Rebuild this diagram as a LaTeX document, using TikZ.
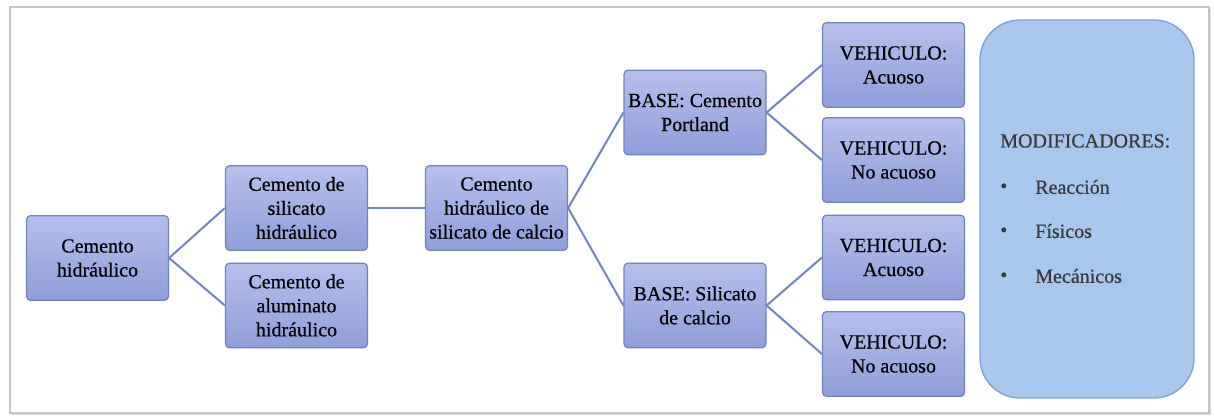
\documentclass[tikz,border=0pt]{standalone}
\usepackage{fontspec}
\setmainfont{Liberation Serif}[FakeBold=0.6]
\usetikzlibrary{shadows}
\definecolor{boxtop}{HTML}{B6C0EC}
\definecolor{boxbot}{HTML}{8E9ED9}
\definecolor{boxline}{HTML}{7282C0}
\definecolor{conn}{HTML}{6F86C2}
\definecolor{modfill}{HTML}{A9C6EC}
\definecolor{modline}{HTML}{7EA3D8}
\definecolor{modtext}{HTML}{3A3A3A}
\definecolor{frameline}{HTML}{C4C4C4}
\tikzset{
  box/.style={draw=boxline, line width=0.9pt, rounded corners=3pt,
    top color=boxtop, bottom color=boxbot,
    minimum width=106.5pt, minimum height=63.5pt, inner sep=0pt,
    align=center, font=\fontsize{15}{18}\selectfont, text=black},
  modbox/.style={draw=modline, line width=1pt, rounded corners=30pt,
    fill=modfill, minimum width=160.5pt, minimum height=283.5pt, inner sep=0pt},
  modtxt/.style={font=\fontsize{15}{18}\selectfont, text=modtext, inner sep=0pt, anchor=west},
  link/.style={draw=conn, line width=1.5pt}
}
\begin{document}
\begin{tikzpicture}[x=0.75pt,y=-0.75pt]
\useasboundingbox (0,0) rectangle (1214,416);
\fill[white] (0,0) rectangle (1214,416);
\draw[frameline, line width=1pt, drop shadow={opacity=0.25, shadow xshift=1.5pt, shadow yshift=-1.5pt}, fill=white] (10,7) rectangle (1209,413);

\node[box] (A) at (97.5,258) {Cemento\\hidráulico};
\node[box] (B) at (296.5,208) {Cemento de\\silicato\\hidráulico};
\node[box] (C) at (296.5,305.5) {Cemento de\\aluminato\\hidráulico};
\node[box] (D) at (496.5,208) {Cemento\\hidráulico de\\silicato de calcio};
\node[box] (E) at (695,112.5) {BASE: Cemento\\Portland};
\node[box] (F) at (695,305.5) {BASE: Silicato\\de calcio};
\node[box] (V1) at (893.5,65) {VEHICULO:\\Acuoso};
\node[box] (V2) at (893.5,160) {VEHICULO:\\No acuoso};
\node[box] (V3) at (893.5,257.5) {VEHICULO:\\Acuoso};
\node[box] (V4) at (893.5,354) {VEHICULO:\\No acuoso};

\node[modbox] (M) at (1087,209) {};
\node[modtxt] (Mt) at (1000,141) {MODIFICADORES:};
\node[modtxt] (b1) at (1000,188) {\textbullet};
\node[modtxt] (i1) at (1035,187) {Reacción};
\node[modtxt] (b2) at (1000,232) {\textbullet};
\node[modtxt] (i2) at (1035,231) {Físicos};
\node[modtxt] (b3) at (1000,277) {\textbullet};
\node[modtxt] (i3) at (1035,276) {Mecánicos};

\draw[link] (A.east) -- (B.west);
\draw[link] (A.east) -- (C.west);
\draw[link] (B.east) -- (D.west);
\draw[link] (D.east) -- (E.west);
\draw[link] (D.east) -- (F.west);
\draw[link] (E.east) -- (V1.west);
\draw[link] (E.east) -- (V2.west);
\draw[link] (F.east) -- (V3.west);
\draw[link] (F.east) -- (V4.west);
\end{tikzpicture}
\end{document}
